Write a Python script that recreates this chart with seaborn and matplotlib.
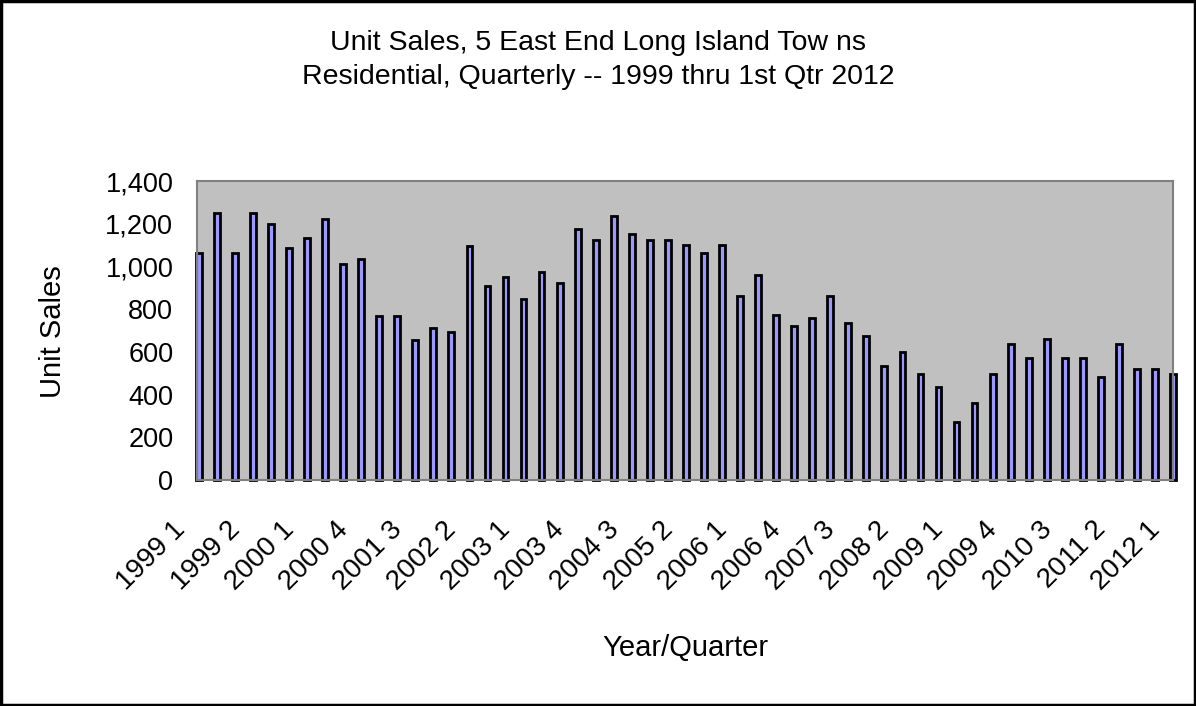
import matplotlib
matplotlib.use("Agg")
import matplotlib.pyplot as plt
import matplotlib.transforms as mtransforms
from matplotlib.patches import Rectangle
from matplotlib.ticker import FuncFormatter
import seaborn as sns

# quarterly unit sales
quarter_index = list(range(55))
unit_sales = [
    1061, 1249, 1061, 1249, 1199, 1085, 1135, 1222, 1010, 1035,
    770, 770, 657, 710, 695, 1097, 910, 949, 847, 972,
    921, 1174, 1124, 1236, 1150, 1124, 1124, 1099, 1061, 1099,
    860, 960, 773, 723, 760, 860, 735, 673, 534, 598,
    496, 434, 270, 359, 496, 635, 571, 659, 571, 571,
    484, 635, 521, 521, 496,
]
tick_labels = [
    "1999 1", "1999 2", "2000 1", "2000 4", "2001 3", "2002 2", "2003 1",
    "2003 4", "2004 3", "2005 2", "2006 1", "2006 4", "2007 3", "2008 2",
    "2009 1", "2009 4", "2010 3", "2011 2", "2012 1",
]
y_ticks = [0, 200, 400, 600, 800, 1000, 1200, 1400]

TITLE = "Unit Sales, 5 East End Long Island Tow ns\nResidential, Quarterly -- 1999 thru 1st Qtr 2012"

sns.set_style("white")
plt.rcParams["font.family"] = ["Liberation Sans", "DejaVu Sans"]
plt.rcParams["text.color"] = "black"
plt.rcParams["xtick.color"] = "black"
plt.rcParams["ytick.color"] = "black"

fig = plt.figure(figsize=(11.96, 7.06), dpi=100)
ax = fig.add_axes([0.1647, 0.3201, 0.9808 - 0.1647, 0.7436 - 0.3201])
ax.set_facecolor("#C0C0C0")

sns.barplot(
    x=quarter_index, y=unit_sales, color="#9999FF", saturation=1,
    edgecolor="black", linewidth=2, width=0.32, ax=ax,
)
# the end bars sit on the plot border in the original, not cut by it
for bar in ax.patches:
    bar.set_clip_on(False)

ax.set_xlim(-0.1, 53.9)
ax.set_ylim(0, 1400)
ax.set_yticks(y_ticks)
ax.yaxis.set_major_formatter(FuncFormatter(lambda v, p: f"{int(v):,}"))
ax.set_xticks(range(0, 55, 3))
ax.set_xticklabels(tick_labels, rotation=45, ha="right", va="center",
                   rotation_mode="anchor")
ax.tick_params(axis="y", length=0, labelsize=19.5, pad=17)
ax.tick_params(axis="x", length=0, labelsize=20, pad=33)
shift = mtransforms.ScaledTranslation(-0.17, 0, fig.dpi_scale_trans)
for lab in ax.get_xticklabels():
    lab.set_transform(lab.get_transform() + shift)

for spine in ax.spines.values():
    spine.set_visible(True)
    spine.set_color("#808080")
    spine.set_linewidth(1.5)

ax.set_xlabel("")
ax.set_ylabel("")
fig.text(0.0445, 0.5308, "Unit Sales", rotation=90, ha="center", va="center",
         fontsize=21)
fig.text(0.5727, 0.082, "Year/Quarter", ha="center", va="center", fontsize=21)
fig.text(0.5, 0.915, TITLE, ha="center", va="center", fontsize=20.5,
         linespacing=1.4)

fig.patches.append(Rectangle((0.001, 0.001), 0.998, 0.998, transform=fig.transFigure,
                             fill=False, edgecolor="black", linewidth=2.5))

fig.savefig("out.png", dpi=100)
